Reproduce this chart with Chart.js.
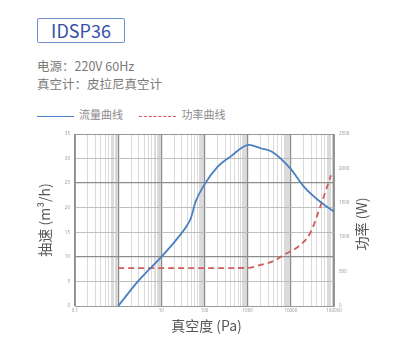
<!DOCTYPE html>
<html>
<head>
<meta charset="utf-8">
<script src="https://cdn.jsdelivr.net/npm/chart.js@4"></script>
<style>
body{margin:0;width:400px;height:359px;background:#fff;font-family:"Noto Sans CJK SC","Noto Sans",sans-serif;position:relative;overflow:hidden}
#modelo{position:absolute;left:37px;top:18px;width:86px;height:23px;border:1.5px solid #6f8fd0;border-radius:2px;color:#3552a8;font-size:18px;line-height:23px;text-align:center}
.info{position:absolute;left:37px;font-size:12.5px;color:#7a7a7a}
#leyenda{position:absolute;left:37px;top:106px;font-size:11px;color:#8a8a8a}
.lin{display:inline-block;width:37px;vertical-align:middle;margin-right:5px}
#cont{position:absolute;left:0;top:0;width:400px;height:359px}
</style>
</head>
<body>
<div id="modelo">IDSP36</div>
<div class="info" style="top:56px">电源：220V 60Hz</div>
<div class="info" style="top:74px">真空计：皮拉尼真空计</div>
<div id="leyenda">
  <span class="lin" style="border-top:1.5px solid #4a7fc1"></span><span style="margin-right:14px">流量曲线</span>
  <span class="lin" style="border-top:1.5px dashed #d05c5c"></span><span>功率曲线</span>
</div>
<div id="cont"><canvas id="grafico"></canvas></div>
<script>
// datos
var presionFlujo = [1, 3, 10, 20, 40, 48, 62, 98, 200, 400, 1060, 2000, 3660, 9700, 20000, 48000, 100000];
var flujo = [0, 5.2, 10.0, 13.0, 16.5, 17.8, 21.2, 24.6, 28.3, 30.4, 32.8, 32.1, 31.4, 28.0, 24.3, 21.2, 19.2];
var presionPotencia = [1, 10, 100, 1000, 2000, 3660, 6800, 16600, 28000, 48000, 85000];
var potencia = [550, 550, 550, 555, 596, 644, 741, 887, 1057, 1443, 1900];
var etiquetasX = [0.1, 10, 100, 1000, 10000, 100000];
var ticksIzq = [0, 5, 10, 15, 20, 25, 30, 35];
var ticksDer = [0, 500, 1000, 1500, 2000, 2500];

function armarPuntos(xs, ys)
{
    var puntos = [];
    for (var i = 0; i < xs.length; i++) {
        puntos.push({x: xs[i], y: ys[i]});
    }
    return puntos;
}

function esDecada(v)
{
    var l = Math.log10(v);
    return Math.abs(l - Math.round(l)) < 1e-6;
}

var titulos = {
    id: 'titulos',
    afterDraw: function (chart) {
        var ctx = chart.ctx;
        var area = chart.chartArea;
        ctx.save();
        ctx.fillStyle = '#555';
        ctx.font = '14px "Noto Sans CJK SC"';
        ctx.textAlign = 'center';
        ctx.textBaseline = 'middle';
        ctx.fillText('真空度 (Pa)', (area.left + area.right) / 2 + 2, 326);
        ctx.translate(45, (area.top + area.bottom) / 2);
        ctx.rotate(-Math.PI / 2);
        ctx.fillText('抽速 (m³/h)', 0, 0);
        ctx.restore();
        ctx.save();
        ctx.fillStyle = '#555';
        ctx.font = '14px "Noto Sans CJK SC"';
        ctx.textAlign = 'center';
        ctx.textBaseline = 'middle';
        ctx.translate(362, (area.top + area.bottom) / 2 + 4);
        ctx.rotate(-Math.PI / 2);
        ctx.fillText('功率 (W)', 0, 0);
        ctx.restore();
    }
};

var data = {
    datasets: [
        {
            label: '流量曲线',
            data: armarPuntos(presionFlujo, flujo),
            borderColor: '#4a7fc1',
            borderWidth: 1.8,
            pointRadius: 0,
            cubicInterpolationMode: 'monotone',
            yAxisID: 'y'
        },
        {
            label: '功率曲线',
            data: armarPuntos(presionPotencia, potencia),
            borderColor: '#d05c5c',
            borderWidth: 1.8,
            borderDash: [6, 4],
            pointRadius: 0,
            cubicInterpolationMode: 'monotone',
            yAxisID: 'y2'
        }
    ]
};

var fuenteTick = {size: 4.5, family: 'Noto Sans'};

var options = {
    responsive: false,
    animation: false,
    layout: {padding: {left: 59, right: 50, top: 134, bottom: 41}},
    plugins: {legend: {display: false}, tooltip: {enabled: false}},
    scales: {
        x: {
            type: 'logarithmic',
            min: 0.1,
            max: 100000,
            afterFit: function (s) { s.height = 12; },
            afterBuildTicks: function (s) {
                var t = [];
                for (var d = -1; d < 5; d++) {
                    var base = Math.pow(10, d);
                    [1, 2, 3, 4, 5, 6, 7, 7.5, 8, 8.5, 9, 9.3, 9.6].forEach(function (k) {
                        t.push({value: k * base});
                    });
                }
                t.push({value: 100000});
                s.ticks = t;
            },
            ticks: {
                autoSkip: false,
                maxRotation: 0,
                padding: 2,
                color: '#999',
                font: fuenteTick,
                callback: function (v) {
                    for (var i = 0; i < etiquetasX.length; i++) {
                        if (Math.abs(v - etiquetasX[i]) / etiquetasX[i] < 1e-6) return String(etiquetasX[i]);
                    }
                    return '';
                }
            },
            grid: {
                color: function (c) { return c.tick && esDecada(c.tick.value) ? '#8c8c8c' : '#d2d2d2'; },
                lineWidth: function (c) { return c.tick && esDecada(c.tick.value) ? 1.2 : 0.8; },
                drawTicks: false
            },
            border: {color: '#999'}
        },
        y: {
            position: 'left',
            min: 0,
            max: 35,
            afterFit: function (s) { s.width = 16; },
            afterBuildTicks: function (s) { s.ticks = ticksIzq.map(function (v) { return {value: v}; }); },
            ticks: {color: '#999', font: fuenteTick, padding: 5, callback: function (v) { return String(v); }},
            grid: {
                color: function (c) { return [0, 10, 25, 35].indexOf(c.tick.value) >= 0 ? '#8c8c8c' : '#b8b8b8'; },
                lineWidth: function (c) { return [10, 25].indexOf(c.tick.value) >= 0 ? 1.3 : 0.9; },
                drawTicks: false
            },
            border: {color: '#999'}
        },
        y2: {
            position: 'right',
            min: 0,
            max: 2500,
            afterFit: function (s) { s.width = 16; },
            afterBuildTicks: function (s) { s.ticks = ticksDer.map(function (v) { return {value: v}; }); },
            ticks: {color: '#999', font: fuenteTick, padding: 5, callback: function (v) { return String(v); }},
            grid: {drawOnChartArea: false, drawTicks: false},
            border: {color: '#999'}
        }
    }
};

var canvas = document.getElementById('grafico');
canvas.width = 400;
canvas.height = 359;
new Chart(canvas, {type: 'line', data: data, options: options, plugins: [titulos]});
</script>
</body>
</html>
